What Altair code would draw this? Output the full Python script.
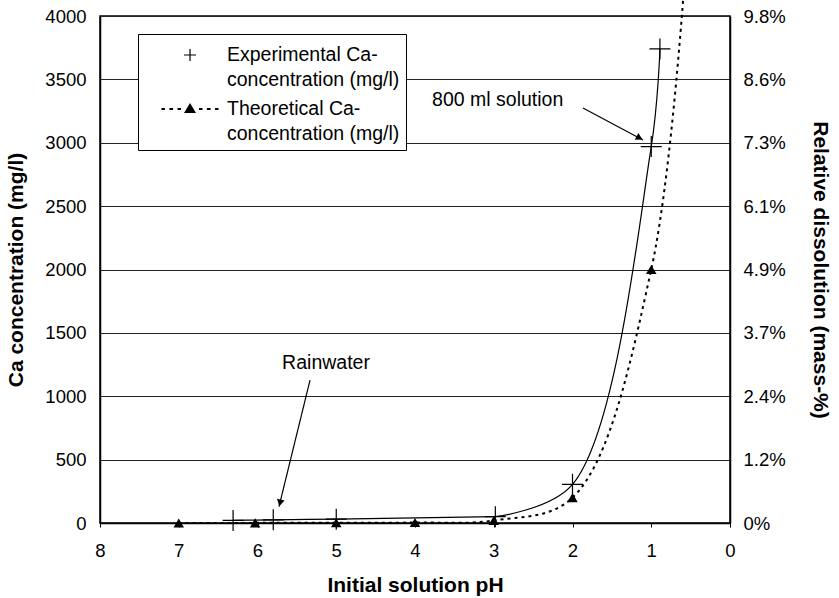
import json
import altair as alt
import pandas as pd

# ---------------- data ----------------
EXP_PH = [6.31, 5.80, 5.00, 2.98, 2.00, 1.00, 0.89]
EXP_CA = [20, 25, 30, 50, 305, 2970, 3740]
EXP_BREAK_PH = 2.98   # flat part / steep part of the smoothed experimental curve

THEO_PH = [7.00, 6.03, 5.00, 4.00, 3.00, 2.00, 1.00, 0.50]
THEO_CA = [0, 1, 2, 4, 20, 200, 2000, 5000]

X_TICKS = [0, 1, 2, 3, 4, 5, 6, 7, 8]
Y_TICKS = [0, 500, 1000, 1500, 2000, 2500, 3000, 3500, 4000]
RIGHT_LABELS = ["0%", "1.2%", "2.4%", "3.7%", "4.9%", "6.1%", "7.3%", "8.6%", "9.8%"]

SERIES = ["Experimental", "Theoretical"]
LEGEND_LINES = [["Experimental Ca-", "concentration (mg/l) "],
                ["Theoretical Ca-", "concentration (mg/l) "]]

ANNOT_TEXT = ["800 ml solution", "Rainwater"]
ANNOT_PH = [2.95, 5.13]
ANNOT_CA = [3337, 1262]
ARROW_PH1 = [1.867, 5.333]
ARROW_CA1 = [3274, 1128]
ARROW_PH2 = [1.105, 5.727]
ARROW_CA2 = [3022, 129]
HEAD_PH = [1.149, 5.714]
HEAD_CA = [3038, 158]
HEAD_ANGLE = [118, 193]

FONT = "Liberation Sans, Arial, sans-serif"

# ---------------- tables ----------------
exp_df = pd.DataFrame({"ph": EXP_PH, "ca": EXP_CA})
theo_df = pd.DataFrame({"ph": THEO_PH, "ca": THEO_CA})
legend_df = pd.DataFrame({"series": SERIES, "ph": [0, 0], "ca": [0, 0]})
annot_df = pd.DataFrame({"text": ANNOT_TEXT, "ph": ANNOT_PH, "ca": ANNOT_CA})
arrow_df = pd.DataFrame({"ph": ARROW_PH1, "ca": ARROW_CA1, "ph2": ARROW_PH2, "ca2": ARROW_CA2})
head_df = pd.DataFrame({"ph": HEAD_PH, "ca": HEAD_CA, "angle": HEAD_ANGLE})
tick_df = pd.DataFrame({"ca": Y_TICKS})

xscale = alt.Scale(domain=[0, 8], reverse=True, nice=False, zero=False)
yscale = alt.Scale(domain=[0, 4000], nice=False)

x_axis = alt.Axis(
    title="Initial solution pH", values=X_TICKS, format="d", grid=False,
    tickSize=4, tickColor="black", domainColor="black", domainWidth=1.5,
    labelFontSize=18.5, labelFont=FONT, labelColor="black", labelPadding=14,
    labelFlush=False, titleFontSize=21, titleFont=FONT, titleFontWeight="bold",
    titleColor="black", titlePadding=15,
)
y_axis = alt.Axis(
    title="Ca concentration (mg/l)", values=Y_TICKS, format="d", grid=True,
    gridColor="#222222", gridWidth=1, ticks=False, domainColor="black",
    domainWidth=1.5, labelFontSize=18.5, labelFont=FONT, labelColor="black",
    labelPadding=14, labelFlush=False, titleFontSize=21, titleFont=FONT,
    titleFontWeight="bold", titleColor="black", titlePadding=18,
)

X = lambda: alt.X("ph:Q", scale=xscale, axis=x_axis)
Y = lambda: alt.Y("ca:Q", scale=yscale, axis=y_axis)

exp_line_low = alt.Chart(exp_df).transform_filter(
    f"datum.ph >= {EXP_BREAK_PH}"
).mark_line(color="black", strokeWidth=1.2, interpolate="monotone").encode(x=X(), y=Y())

exp_line_high = alt.Chart(exp_df).transform_filter(
    f"datum.ph <= {EXP_BREAK_PH}"
).mark_line(color="black", strokeWidth=1.2, interpolate="catmull-rom").encode(x=X(), y=Y())

theo_line = alt.Chart(theo_df).mark_line(
    color="black", strokeWidth=2, strokeDash=[3, 4], interpolate="catmull-rom"
).encode(x=X(), y=Y())

CROSS = "M-1,0H1M0,-1V1"
exp_pts = alt.Chart(exp_df).mark_point(
    shape=CROSS, size=441, stroke="black", strokeWidth=1.2, filled=False, opacity=1
).encode(x=X(), y=Y())

theo_pts = alt.Chart(theo_df).mark_point(
    shape="triangle-up", size=110, filled=True, color="black", opacity=1
).encode(x=X(), y=Y())

arrows = alt.Chart(arrow_df).mark_rule(color="black", strokeWidth=1.2).encode(
    x=X(), y=Y(), x2="ph2:Q", y2="ca2:Q"
)
heads = alt.Chart(head_df).mark_point(
    shape="triangle-up", size=60, filled=True, color="black", opacity=1
).encode(x=X(), y=Y(), angle=alt.Angle("angle:Q", scale=None))

labels = alt.Chart(annot_df).mark_text(
    font=FONT, fontSize=19.5, color="black", align="center", baseline="middle"
).encode(x=X(), y=Y(), text="text:N")

# legend symbols drawn as filled shapes: small cross / dotted line with triangle
CROSS_SMALL = ("M-0.4,-0.04H0.4V0.04H-0.4Z"
               "M-0.04,-0.4H0.04V0.4H-0.04Z")
COMBO = ("M-1.9,-0.067H-1.67V0.067H-1.9Z"
         "M-1.37,-0.067H-1.13V0.067H-1.37Z"
         "M-0.83,-0.067H-0.6V0.067H-0.83Z"
         "M0.6,-0.067H0.83V0.067H0.6Z"
         "M1.13,-0.067H1.37V0.067H1.13Z"
         "M1.67,-0.067H1.9V0.067H1.67Z"
         "M0,-0.4L0.4,0.27L-0.4,0.27Z")
label_expr = " : ".join(
    f"datum.label == {json.dumps(s)} ? {json.dumps(l)}" for s, l in zip(SERIES[:-1], LEGEND_LINES[:-1])
) + " : " + json.dumps(LEGEND_LINES[-1])

legend_layer = alt.Chart(legend_df).transform_filter("false").mark_point(
    filled=True, color="black", opacity=1
).encode(
    x=X(), y=Y(),
    shape=alt.Shape(
        "series:N",
        scale=alt.Scale(domain=SERIES, range=[CROSS_SMALL, COMBO]),
        legend=alt.Legend(
            title=None, orient="none", legendX=38, legendY=18,
            fillColor="white", strokeColor="black", padding=6,
            symbolSize=900, symbolStrokeWidth=0, symbolFillColor="black",
            symbolOffset=31, labelOffset=22,
            labelFontSize=19.5, labelFont=FONT, labelColor="black",
            labelLimit=400, labelBaseline="middle", labelExpr=label_expr,
            rowPadding=4,
        ),
    ),
)

main = alt.layer(exp_line_low, exp_line_high, theo_line, exp_pts, theo_pts,
                 arrows, heads, labels, legend_layer)

right_expr = json.dumps(RIGHT_LABELS) + "[round(datum.value / 500)]"
right = alt.Chart(tick_df).mark_point(opacity=0).encode(
    y=alt.Y("ca:Q", scale=yscale, axis=alt.Axis(
        orient="right", title="Relative dissolution (mass-%)", values=Y_TICKS,
        labelExpr=right_expr, grid=False, ticks=False, domainColor="black",
        domainWidth=1.5, labelFontSize=18.5, labelFont=FONT, labelColor="black",
        labelPadding=13, labelFlush=False, titleFontSize=21, titleFont=FONT,
        titleFontWeight="bold", titleColor="black", titlePadding=24,
    ))
)

chart = alt.layer(main, right).resolve_scale(y="independent").properties(
    width=630, height=507,
    padding={"left": 100, "top": 16, "right": 109, "bottom": 75},
    autosize=alt.AutoSizeParams(type="none"),
).configure(
    font=FONT, background="white",
    style={"guide-label": {"lineHeight": 25}},
).configure_view(stroke="black", strokeWidth=1.5)

chart.save("out.html", embed_options={"renderer": "svg", "actions": False})
